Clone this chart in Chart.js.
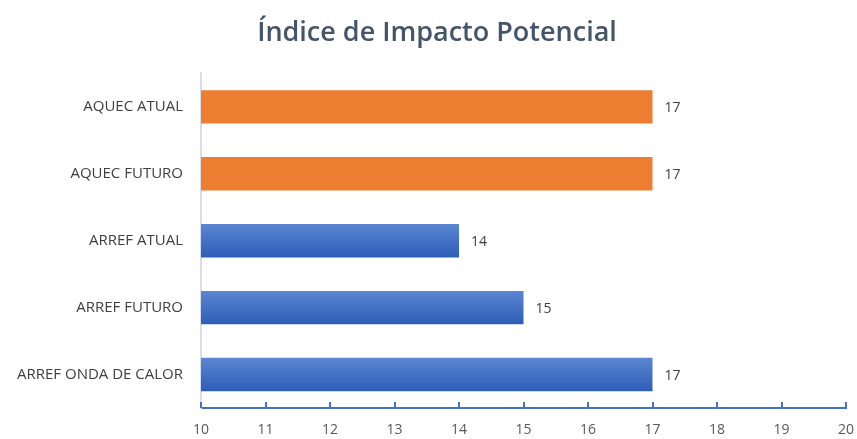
<!DOCTYPE html>
<html>
<head>
<meta charset="utf-8">
<script src="https://cdn.jsdelivr.net/npm/chart.js@4.4.1/dist/chart.umd.min.js"></script>
<style>
    html, body { margin: 0; padding: 0; background: #fff; }
    #wrap { width: 857px; height: 439px; }
</style>
</head>
<body>
<div id="wrap"><canvas id="grafico" width="857" height="439"></canvas></div>
<script>
const categorias = ['AQUEC ATUAL', 'AQUEC FUTURO', 'ARREF ATUAL', 'ARREF FUTURO', 'ARREF ONDA DE CALOR'];
const valores = [17, 17, 14, 15, 17];
const tipos = ['aquec', 'aquec', 'arref', 'arref', 'arref'];
const eixoMin = 10;
const eixoMax = 20;

const fonte = "'Open Sans', 'Liberation Sans', sans-serif";

// barras de aquecimento em laranja, arrefecimento em azul (degrade aplicado no plugin)
const coresBase = tipos.map(t => t === 'aquec' ? '#ED7D31' : '#3F6FC8');

const extras = {
    id: 'extras',
    // degrade vertical nas barras azuis, calculado com a posicao de cada barra
    beforeDatasetsDraw(chart) {
        const ctx = chart.ctx;
        chart.getDatasetMeta(0).data.forEach((bar, i) => {
            if (tipos[i] !== 'arref') return;
            const h = bar.height / 2;
            const grad = ctx.createLinearGradient(0, bar.y - h, 0, bar.y + h);
            grad.addColorStop(0, '#5B86D2');
            grad.addColorStop(1, '#2D5DB7');
            bar.options.backgroundColor = grad;
        });
    },
    // marcas do eixo x para dentro da area do grafico + rotulos de valor
    afterDatasetsDraw(chart) {
        const ctx = chart.ctx;
        const x = chart.scales.x;
        const area = chart.chartArea;
        ctx.save();
        ctx.strokeStyle = '#4472C4';
        ctx.lineWidth = 2;
        for (let v = eixoMin; v <= eixoMax; v++) {
            const px = Math.round(x.getPixelForValue(v));
            ctx.beginPath();
            ctx.moveTo(px, area.bottom);
            ctx.lineTo(px, area.bottom - 6);
            ctx.stroke();
        }
        ctx.fillStyle = '#404040';
        ctx.font = '14px ' + fonte;
        ctx.textBaseline = 'middle';
        chart.getDatasetMeta(0).data.forEach((bar, i) => {
            ctx.fillText(String(valores[i]), bar.x + 12, bar.y + 1);
        });
        ctx.restore();
    }
};

new Chart(document.getElementById('grafico'), {
    type: 'bar',
    data: {
        labels: categorias,
        datasets: [{
            data: valores,
            backgroundColor: coresBase,
            borderWidth: 0,
            categoryPercentage: 1,
            barPercentage: 0.5
        }]
    },
    options: {
        indexAxis: 'y',
        responsive: false,
        animation: false,
        layout: { padding: { left: 17, right: 0, top: 0, bottom: 0 } },
        plugins: {
            legend: { display: false },
            tooltip: { enabled: false },
            title: {
                display: true,
                text: 'Índice de Impacto Potencial',
                color: '#44546A',
                font: { family: fonte, size: 27, weight: '600' },
                padding: { top: 17, bottom: 24 }
            }
        },
        scales: {
            x: {
                min: eixoMin,
                max: eixoMax,
                ticks: { stepSize: 1, color: '#595959', font: { family: fonte, size: 14 }, padding: 14 },
                grid: { display: false, drawTicks: false },
                border: { display: true, color: '#4472C4', width: 2 },
                afterFit(scale) {
                    scale.height = 31;
                    scale.paddingRight = 11;
                }
            },
            y: {
                ticks: { color: '#404040', font: { family: fonte, size: 15 }, padding: 18 },
                grid: { display: false, drawTicks: false },
                border: { display: true, color: '#D9DEE6', width: 2 },
                afterFit(scale) { scale.width = 184; }
            }
        }
    },
    plugins: [extras]
});
</script>
</body>
</html>
